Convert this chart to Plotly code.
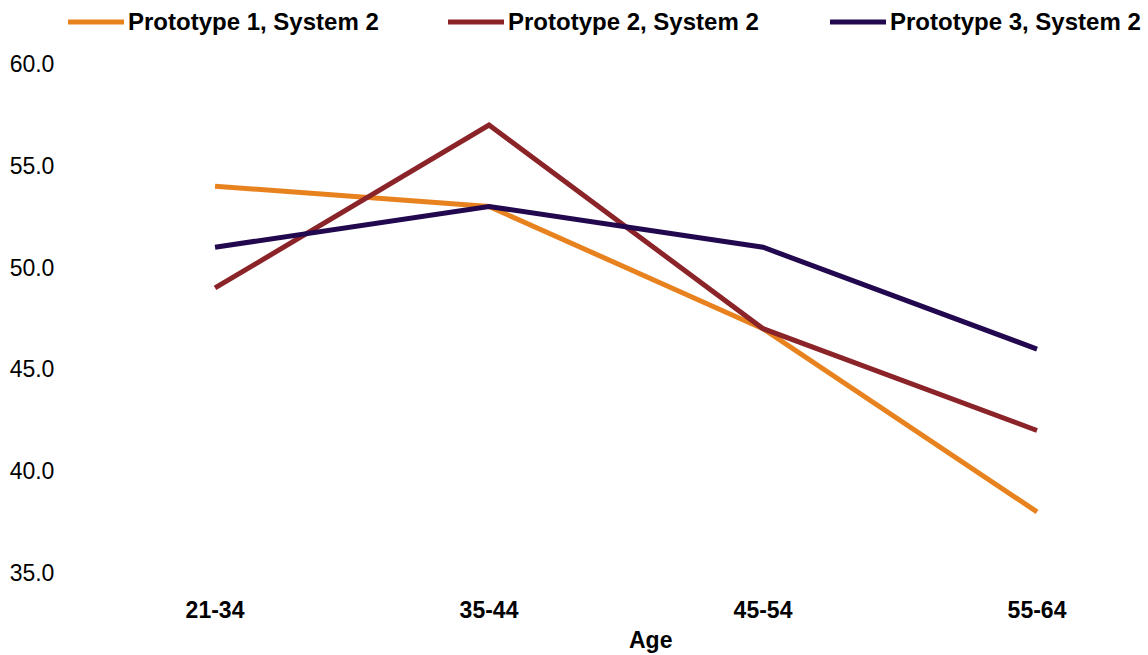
import plotly.graph_objects as go

ages = ["21-34", "35-44", "45-54", "55-64"]
proto1 = [54, 53, 47, 38]
proto2 = [49, 57, 47, 42]
proto3 = [51, 53, 51, 46]
names = ["Prototype 1, System 2", "Prototype 2, System 2", "Prototype 3, System 2"]
colors = ["#E8821E", "#8B2428", "#22084F"]
y_ticks = [35, 40, 45, 50, 55, 60]

W, H = 1148, 655
ML, MR, MT, MB = 75, 0, 64, 82
pw, ph = W - ML - MR, H - MT - MB
FONT = "Liberation Sans, Arial"

fig = go.Figure()
for name, vals, col in zip(names, [proto1, proto2, proto3], colors):
    fig.add_trace(go.Scatter(
        x=list(range(len(ages))), y=vals, name=name, mode="lines",
        line=dict(color=col, width=5), showlegend=False,
    ))

# legend drawn as long line samples with bold labels
leg_x = [68, 448, 830]
leg_y = 22
shapes, annotations = [], []
for lx, name, col in zip(leg_x, names, colors):
    x0 = (lx - ML) / pw
    x1 = (lx + 56 - ML) / pw
    yy = (H - MB - leg_y) / ph
    shapes.append(dict(type="line", xref="paper", yref="paper", x0=x0, x1=x1, y0=yy, y1=yy,
                       line=dict(color=col, width=5)))
    annotations.append(dict(xref="paper", yref="paper", x=(lx + 58 - ML) / pw, y=yy,
                            xanchor="left", yanchor="middle", showarrow=False, text="<b>%s</b>" % name,
                            font=dict(family=FONT, size=24, color="#000")))

annotations.append(dict(xref="paper", yref="paper", x=(650 - ML) / pw, y=-(640 - (H - MB)) / ph,
                        xanchor="center", yanchor="middle", showarrow=False, text="<b>Age</b>",
                        font=dict(family=FONT, size=23, color="#000")))

fig.update_layout(
    width=W, height=H,
    margin=dict(l=ML, r=MR, t=MT, b=MB),
    paper_bgcolor="white", plot_bgcolor="white",
    font=dict(family=FONT, size=23, color="#000"),
    shapes=shapes, annotations=annotations,
    xaxis=dict(
        range=[-0.511, 3.405], tickmode="array", tickvals=list(range(len(ages))),
        ticktext=["<b>%s</b>" % a for a in ages], showgrid=False, zeroline=False,
        showline=False, ticks="outside", ticklen=16, tickcolor="rgba(0,0,0,0)",
        tickfont=dict(size=23),
    ),
    yaxis=dict(
        range=[35, 60], tickmode="array", tickvals=y_ticks,
        ticktext=["%.1f" % v for v in y_ticks], showgrid=False, zeroline=False,
        showline=False, ticks="outside", ticklen=15, tickcolor="rgba(0,0,0,0)",
        tickfont=dict(size=23),
    ),
)

fig.write_html("out.html")
